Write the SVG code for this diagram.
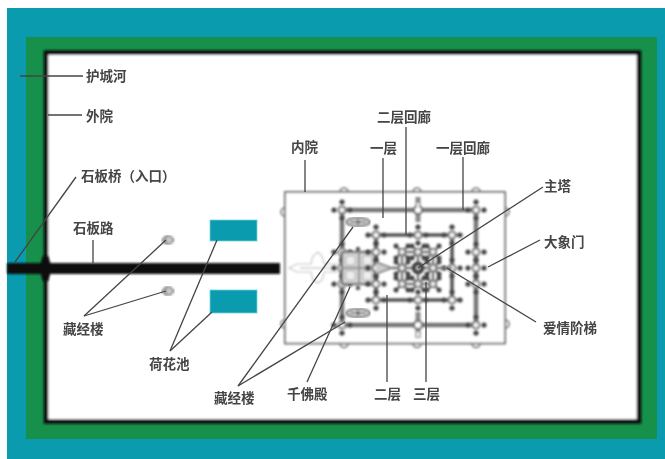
<svg xmlns="http://www.w3.org/2000/svg" xmlns:xlink="http://www.w3.org/1999/xlink" width="665" height="459" viewBox="0 0 665 459">
<style>
text{font-family:"Noto Sans CJK SC","Noto Sans",sans-serif;font-size:13.500px;font-weight:700;fill:#444}
.lead{fill:none;stroke:#444;stroke-width:1.300}
.gal{fill:none;stroke:#777;stroke-width:4.500}
.gal2{fill:none;stroke:#555;stroke-width:3.500}
.thin{fill:none;stroke:#777;stroke-width:1.600}
.pale{fill:#fff;stroke:#c4c4c4;stroke-width:1.200}
.pool{fill:#0a9cae;stroke:#6fd5df;stroke-width:.8}
</style>
<defs>
<filter id="b" x="-5%" y="-5%" width="110%" height="110%"><feGaussianBlur stdDeviation=".8"/></filter>
<filter id="t" x="-5%" y="-20%" width="110%" height="140%"><feGaussianBlur stdDeviation=".5"/></filter>
<g id="post">
<circle r="3.500" fill="#f4f4f4" stroke="#777" stroke-width="2"/>
<circle cx="0" cy="-8" r="2.600" fill="#444"/>
<circle cx="0" cy="8" r="2.600" fill="#444"/>
<circle cx="-8" cy="0" r="2.600" fill="#444"/>
<circle cx="8" cy="0" r="2.600" fill="#444"/>
</g>
<g id="p2">
<path d="M-6-6L6 6M-6 6L6-6" stroke="#666" stroke-width="2"/>
<circle cx="-6" cy="-6" r="2.500" fill="#444"/><circle cx="6" cy="-6" r="2.500" fill="#444"/><circle cx="-6" cy="6" r="2.500" fill="#444"/><circle cx="6" cy="6" r="2.500" fill="#444"/>
<circle r="3.200" fill="#eee" stroke="#666" stroke-width="1.600"/>
</g>
<g id="lib"><ellipse rx="11.500" ry="4" fill="#eee" stroke="#666" stroke-width="2"/><path d="M-8 0H8" stroke="#666" stroke-width="1.800"/><circle r="2.200" fill="#666"/></g>
<g id="smalllib"><path d="M-6 0L-2-4H2L6 0L2 4H-2Z" fill="#ccc" stroke="#777" stroke-width="1.400"/><path d="M-2-4V4" stroke="#777"/></g>
</defs>
<rect width="665" height="459" fill="#fff"/>
<g id="moat"><rect x="7" y="8" width="658" height="451" fill="#0a9cae"/></g>
<g id="green-bank"><rect x="26" y="37" width="631" height="402" fill="#16904a"/></g>
<g id="outer-court" filter="url(#b)"><rect x="46" y="52.500" width="593" height="369" fill="#fff" stroke="#0a0a0a" stroke-width="4.500"/></g>
<g id="road" filter="url(#b)"><rect x="7" y="263" width="273" height="11" fill="#0a0a0a"/><path d="M39 268L43 256H48L52 268L48 281H43Z" fill="#0a0a0a"/></g>
<g id="pool-north"><rect class="pool" x="210" y="220" width="47" height="21"/></g>
<g id="pool-south"><rect class="pool" x="210" y="290" width="47" height="23"/></g>
<g id="library-west-n" filter="url(#b)"><use href="#smalllib" x="168" y="240"/></g>
<g id="library-west-s" filter="url(#b)"><use href="#smalllib" x="168" y="291"/></g>
<g id="inner-court" filter="url(#b)">
<rect x="285" y="192" width="220" height="151.500" fill="#fff" stroke="#666" stroke-width="1.800"/>
<path class="thin" d="M340 192a4 4 0 0 1 8 0M413 192a4 4 0 0 1 8 0M472 192a4 4 0 0 1 8 0M340 343.500a4 4 0 0 0 8 0M413 343.500a4 4 0 0 0 8 0M472 343.500a4 4 0 0 0 8 0M285 208a4 4 0 0 0 0 8M285 320a4 4 0 0 0 0 8M505 208a4 4 0 0 1 0 8M505 320a4 4 0 0 1 0 8"/>
</g>
<g id="west-causeway" filter="url(#b)">
<path class="pale" d="M289 268L297 264H311L313 256L318 252L322 256L324 264H342V272H324L322 280L318 283L313 280L311 272H297Z"/>
<path d="M300 268H342" stroke="#ccc" stroke-width="1.500"/>
</g>
<g id="library-inner-n" filter="url(#b)"><use href="#lib" x="358" y="222"/></g>
<g id="library-inner-s" filter="url(#b)"><use href="#lib" x="358" y="313"/></g>
<g id="gallery-one" filter="url(#b)">
<rect class="gal" x="342" y="210" width="134" height="115"/>
<path d="M418 197V222M418 312V338" stroke="#888" stroke-width="5"/>
<circle cx="418" cy="210" r="4" fill="#fff" stroke="#666" stroke-width="2"/>
<circle cx="418" cy="325" r="4" fill="#fff" stroke="#666" stroke-width="2"/>
<path d="M418 203v4M418 332v5" stroke="#fff" stroke-width="2"/>
<use href="#post" x="342" y="210"/><use href="#post" x="476" y="210"/>
<use href="#post" x="342" y="325"/><use href="#post" x="476" y="325"/>
<use href="#post" x="342" y="252"/><use href="#post" x="342" y="268"/><use href="#post" x="342" y="284"/>
<use href="#post" x="476" y="252"/><use href="#post" x="476" y="268"/><use href="#post" x="476" y="284"/>
</g>
<g id="hall-of-thousand-buddhas" filter="url(#b)">
<rect x="342" y="252" width="34" height="32" fill="#ddd" stroke="#777" stroke-width="2.500"/>
<path d="M342 268H376M359 252V284" stroke="#999" stroke-width="2.500"/>
<path d="M346 256h9v9h-9zM363 256h9v9h-9zM346 271h9v9h-9zM363 271h9v9h-9z" fill="#eee" stroke="#aaa"/>
<circle cx="358" cy="249" r="2.200" fill="#555"/><circle cx="358" cy="288" r="2.200" fill="#555"/>
</g>
<g id="gallery-two" filter="url(#b)">
<rect class="gal2" x="376" y="235" width="76" height="65"/>
<path d="M370 235H376M452 235H458M370 300H376M452 300H458" stroke="#555" stroke-width="2.500"/>
<use href="#post" x="376" y="235"/><use href="#post" x="452" y="235"/>
<use href="#post" x="376" y="300"/><use href="#post" x="452" y="300"/>
<use href="#post" x="376" y="252"/><use href="#post" x="376" y="268"/><use href="#post" x="376" y="284"/>
<use href="#post" x="418" y="235"/><use href="#post" x="418" y="300"/><use href="#post" x="452" y="268"/>
<path d="M376 262L392 268L376 274" fill="#ccc" stroke="#777" stroke-width="1.500"/>
</g>
<g id="main-tower" filter="url(#b)">
<path d="M402 252H433M402 268H433M402 284H433M402 252V284M418 252V284M433 252V284M392 268H452" stroke="#777" stroke-width="2.500" fill="none"/>
<use href="#p2" x="402" y="252"/><use href="#p2" x="418" y="252"/><use href="#p2" x="433" y="252"/>
<use href="#p2" x="402" y="268"/><use href="#p2" x="433" y="268"/>
<use href="#p2" x="402" y="284"/><use href="#p2" x="418" y="284"/><use href="#p2" x="433" y="284"/>
<circle cx="418" cy="268" r="6.500" fill="#444"/><circle cx="418" cy="268" r="2.200" fill="#bbb"/>
</g>
<g id="connectors" filter="url(#t)">
<path class="lead" d="M20 76H83"/>
<path class="lead" d="M48 115H82"/>
<path class="lead" d="M76 177L15 262"/>
<path class="lead" d="M93 240V263"/>
<path class="lead" d="M84 316L166 240"/>
<path class="lead" d="M84 316L166 291"/>
<path class="lead" d="M170 351L217 240"/>
<path class="lead" d="M170 351L212 312"/>
<path class="lead" d="M238 386L353 227"/>
<path class="lead" d="M238 386L345 322"/>
<path class="lead" d="M307 382L350 287"/>
<path class="lead" d="M305 160V192"/>
<path class="lead" d="M383 158V218"/>
<path class="lead" d="M406 127V235"/>
<path class="lead" d="M463 157V210"/>
<path class="lead" d="M387 295V382"/>
<path class="lead" d="M426 282V382"/>
<path class="lead" d="M543 187L418 268"/>
<path class="lead" d="M540 240L488 267"/>
<path class="lead" d="M536 322L447 268"/>
</g>
<g id="labels" filter="url(#t)">
<text x="86" y="81">护城河</text>
<text x="86" y="121">外院</text>
<text x="81" y="181">石板桥（入口）</text>
<text x="73" y="233">石板路</text>
<text x="63" y="334">藏经楼</text>
<text x="149" y="369">荷花池</text>
<text x="214" y="403">藏经楼</text>
<text x="287" y="399">千佛殿</text>
<text x="374" y="399">二层</text>
<text x="413" y="399">三层</text>
<text x="543" y="333">爱情阶梯</text>
<text x="544" y="247">大象门</text>
<text x="544" y="191">主塔</text>
<text x="436" y="153">一层回廊</text>
<text x="370" y="153">一层</text>
<text x="377" y="122">二层回廊</text>
<text x="291" y="152">内院</text>
</g>
</svg>
